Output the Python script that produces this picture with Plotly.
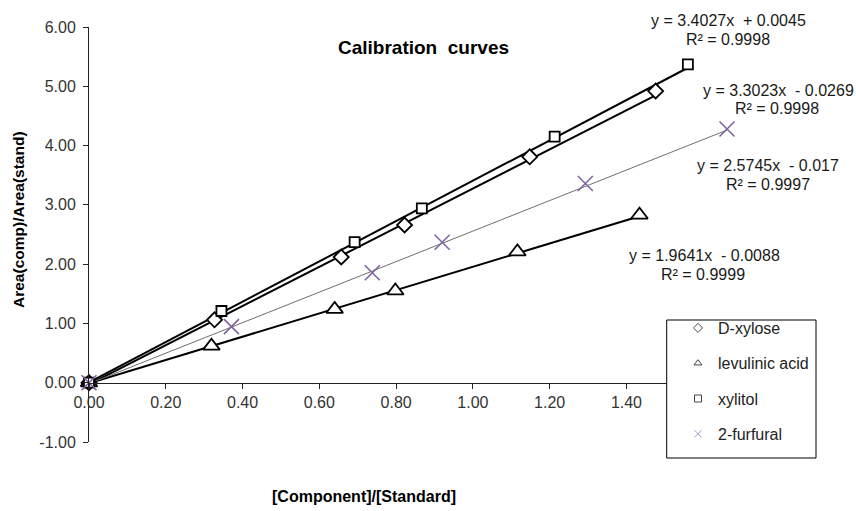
import plotly.graph_objects as go

# ---------------- data ----------------
names = ["D-xylose", "levulinic acid", "xylitol", "2-furfural"]

x_xylose = [0, 0.327, 0.657, 0.822, 1.148, 1.476]
y_xylose = [0, 1.06, 2.12, 2.66, 3.81, 4.92]

x_levulinic = [0, 0.319, 0.640, 0.798, 1.116, 1.434]
y_levulinic = [0, 0.62, 1.24, 1.55, 2.21, 2.83]

x_xylitol = [0, 0.345, 0.692, 0.867, 1.213, 1.560]
y_xylitol = [0, 1.21, 2.37, 2.94, 4.15, 5.37]

x_furfural = [0, 0.371, 0.738, 0.920, 1.293, 1.662]
y_furfural = [0, 0.945, 1.855, 2.37, 3.36, 4.28]

slopes = [3.3023, 1.9641, 3.4027, 2.5745]
intercepts = [-0.0269, -0.0088, 0.0045, -0.017]
r2_values = [0.9998, 0.9999, 0.9998, 0.9997]

x_ticks = [0, 0.2, 0.4, 0.6, 0.8, 1.0, 1.2, 1.4, 1.6, 1.8]
y_ticks = [-1, 0, 1, 2, 3, 4, 5, 6]

# ---------------- geometry helpers ----------------
W, H = 856, 511
ML, MR, MT, MB = 89, 76, 27, 69
PW, PH = W - ML - MR, H - MT - MB


def px_x(px):
    return (px - ML) / PW


def px_y(py):
    return (H - MB - py) / PH


xs = [x_xylose, x_levulinic, x_xylitol, x_furfural]
ys = [y_xylose, y_levulinic, y_xylitol, y_furfural]

symbols = ["diamond", "triangle-up", "square", "x-thin-open"]
msizes = [11.5, 14.5, 10, 15]
line_colors = ["#000000", "#000000", "#000000", "#6e6e6e"]
line_widths = [2, 2, 2, 1]
purple = "#8064A2"

fig = go.Figure()

# trend lines from the fitted equations
for i in range(4):
    xl = [0, max(xs[i])]
    yl = [slopes[i] * v + intercepts[i] for v in xl]
    fig.add_trace(go.Scatter(x=xl, y=yl, mode="lines",
                             line=dict(color=line_colors[i], width=line_widths[i]),
                             showlegend=False, hoverinfo="skip", cliponaxis=False))

# data markers
for i in range(4):
    if i == 3:
        mk = dict(symbol=symbols[i], size=msizes[i], color=purple,
                  line=dict(color=purple, width=1.6))
    else:
        mk = dict(symbol=symbols[i], size=msizes[i], color="white",
                  line=dict(color="black", width=1.8))
    fig.add_trace(go.Scatter(x=xs[i], y=ys[i], mode="markers", marker=mk,
                             showlegend=False, cliponaxis=False, name=names[i]))

# legend entries
leg_symbols = ["diamond-open", "triangle-up-open", "square-open", "x-thin-open"]
leg_colors = ["#444444", "#444444", "#444444", "#a898cc"]
for i in range(4):
    fig.add_trace(go.Scatter(x=[None], y=[None], mode="markers", name=names[i],
                             legendgroup=f"g{i}",
                             marker=dict(symbol=leg_symbols[i], size=7,
                                         color=leg_colors[i],
                                         line=dict(color=leg_colors[i], width=1))))

# equation annotations
eq_pos = [  # (line1 center, line2 center) in pixels
    ((778.3, 90.0), (777.3, 108.3)),
    ((704.0, 255.0), (703.3, 274.0)),
    ((728.8, 20.7), (728.4, 39.3)),
    ((768.3, 165.7), (768.0, 184.3)),
]
annotations = []
for i in range(4):
    sign = "+" if intercepts[i] >= 0 else "-"
    t1 = f"y = {slopes[i]:.4f}x\u00a0 {sign} {abs(intercepts[i]):g}"
    t2 = f"R² = {r2_values[i]:.4f}"
    for txt, (px, py) in zip([t1, t2], eq_pos[i]):
        annotations.append(dict(text=txt, x=px_x(px), y=px_y(py), xref="paper", yref="paper",
                                xanchor="center", yanchor="middle", showarrow=False,
                                font=dict(family="Liberation Sans, Arial", size=16, color="#1a1a1a")))

# title and axis titles
annotations.append(dict(text="<b>Calibration\u00a0 curves</b>", x=px_x(423), y=px_y(47),
                        xref="paper", yref="paper", xanchor="center", yanchor="middle",
                        showarrow=False, font=dict(family="Liberation Sans, Arial", size=19, color="#000")))
annotations.append(dict(text="<b>Area(comp)/Area(stand)</b>", x=px_x(18), y=px_y(220),
                        xref="paper", yref="paper", xanchor="center", yanchor="middle",
                        textangle=-90, showarrow=False,
                        font=dict(family="Liberation Sans, Arial", size=15.5, color="#000")))
annotations.append(dict(text="<b>[Component]/[Standard]</b>", x=px_x(364), y=px_y(496),
                        xref="paper", yref="paper", xanchor="center", yanchor="middle",
                        showarrow=False, font=dict(family="Liberation Sans, Arial", size=16, color="#000")))

# legend box
shapes = [dict(type="rect", xref="paper", yref="paper",
               x0=px_x(666.7), x1=px_x(816), y0=px_y(458), y1=px_y(320),
               fillcolor="white", line=dict(color="#000", width=1), layer="above")]

fig.update_layout(
    width=W, height=H,
    margin=dict(l=ML, r=MR, t=MT, b=MB),
    paper_bgcolor="white", plot_bgcolor="white",
    font=dict(family="Liberation Sans, Arial", size=16, color="#333333"),
    annotations=annotations,
    shapes=shapes,
    legend=dict(x=px_x(678), y=px_y(311), xanchor="left", yanchor="top",
                bgcolor="rgba(0,0,0,0)", borderwidth=0, tracegroupgap=11.5,
                font=dict(family="Liberation Sans, Arial", size=16, color="#222")),
    xaxis=dict(range=[0, 1.8], tickvals=x_ticks, ticktext=[f"{v:.2f}" for v in x_ticks],
               showgrid=False, zeroline=False, showline=True, linecolor="#222", linewidth=1,
               ticks="outside", ticklen=5, tickcolor="#222",
               anchor="free", position=1 / 7,
               tickfont=dict(family="Liberation Sans, Arial", size=16, color="#333333")),
    yaxis=dict(range=[-1, 6], tickvals=y_ticks, ticktext=[f"{v:.2f}" for v in y_ticks],
               showgrid=False, zeroline=False, showline=True, linecolor="#222", linewidth=1,
               ticks="outside", ticklen=5, tickcolor="#222", ticklabelstandoff=4,
               tickfont=dict(family="Liberation Sans, Arial", size=16, color="#333333")),
)

fig.write_html("out.html", config={"displayModeBar": False},
               post_script="document.body.style.margin='0';document.body.style.overflow='hidden';")
